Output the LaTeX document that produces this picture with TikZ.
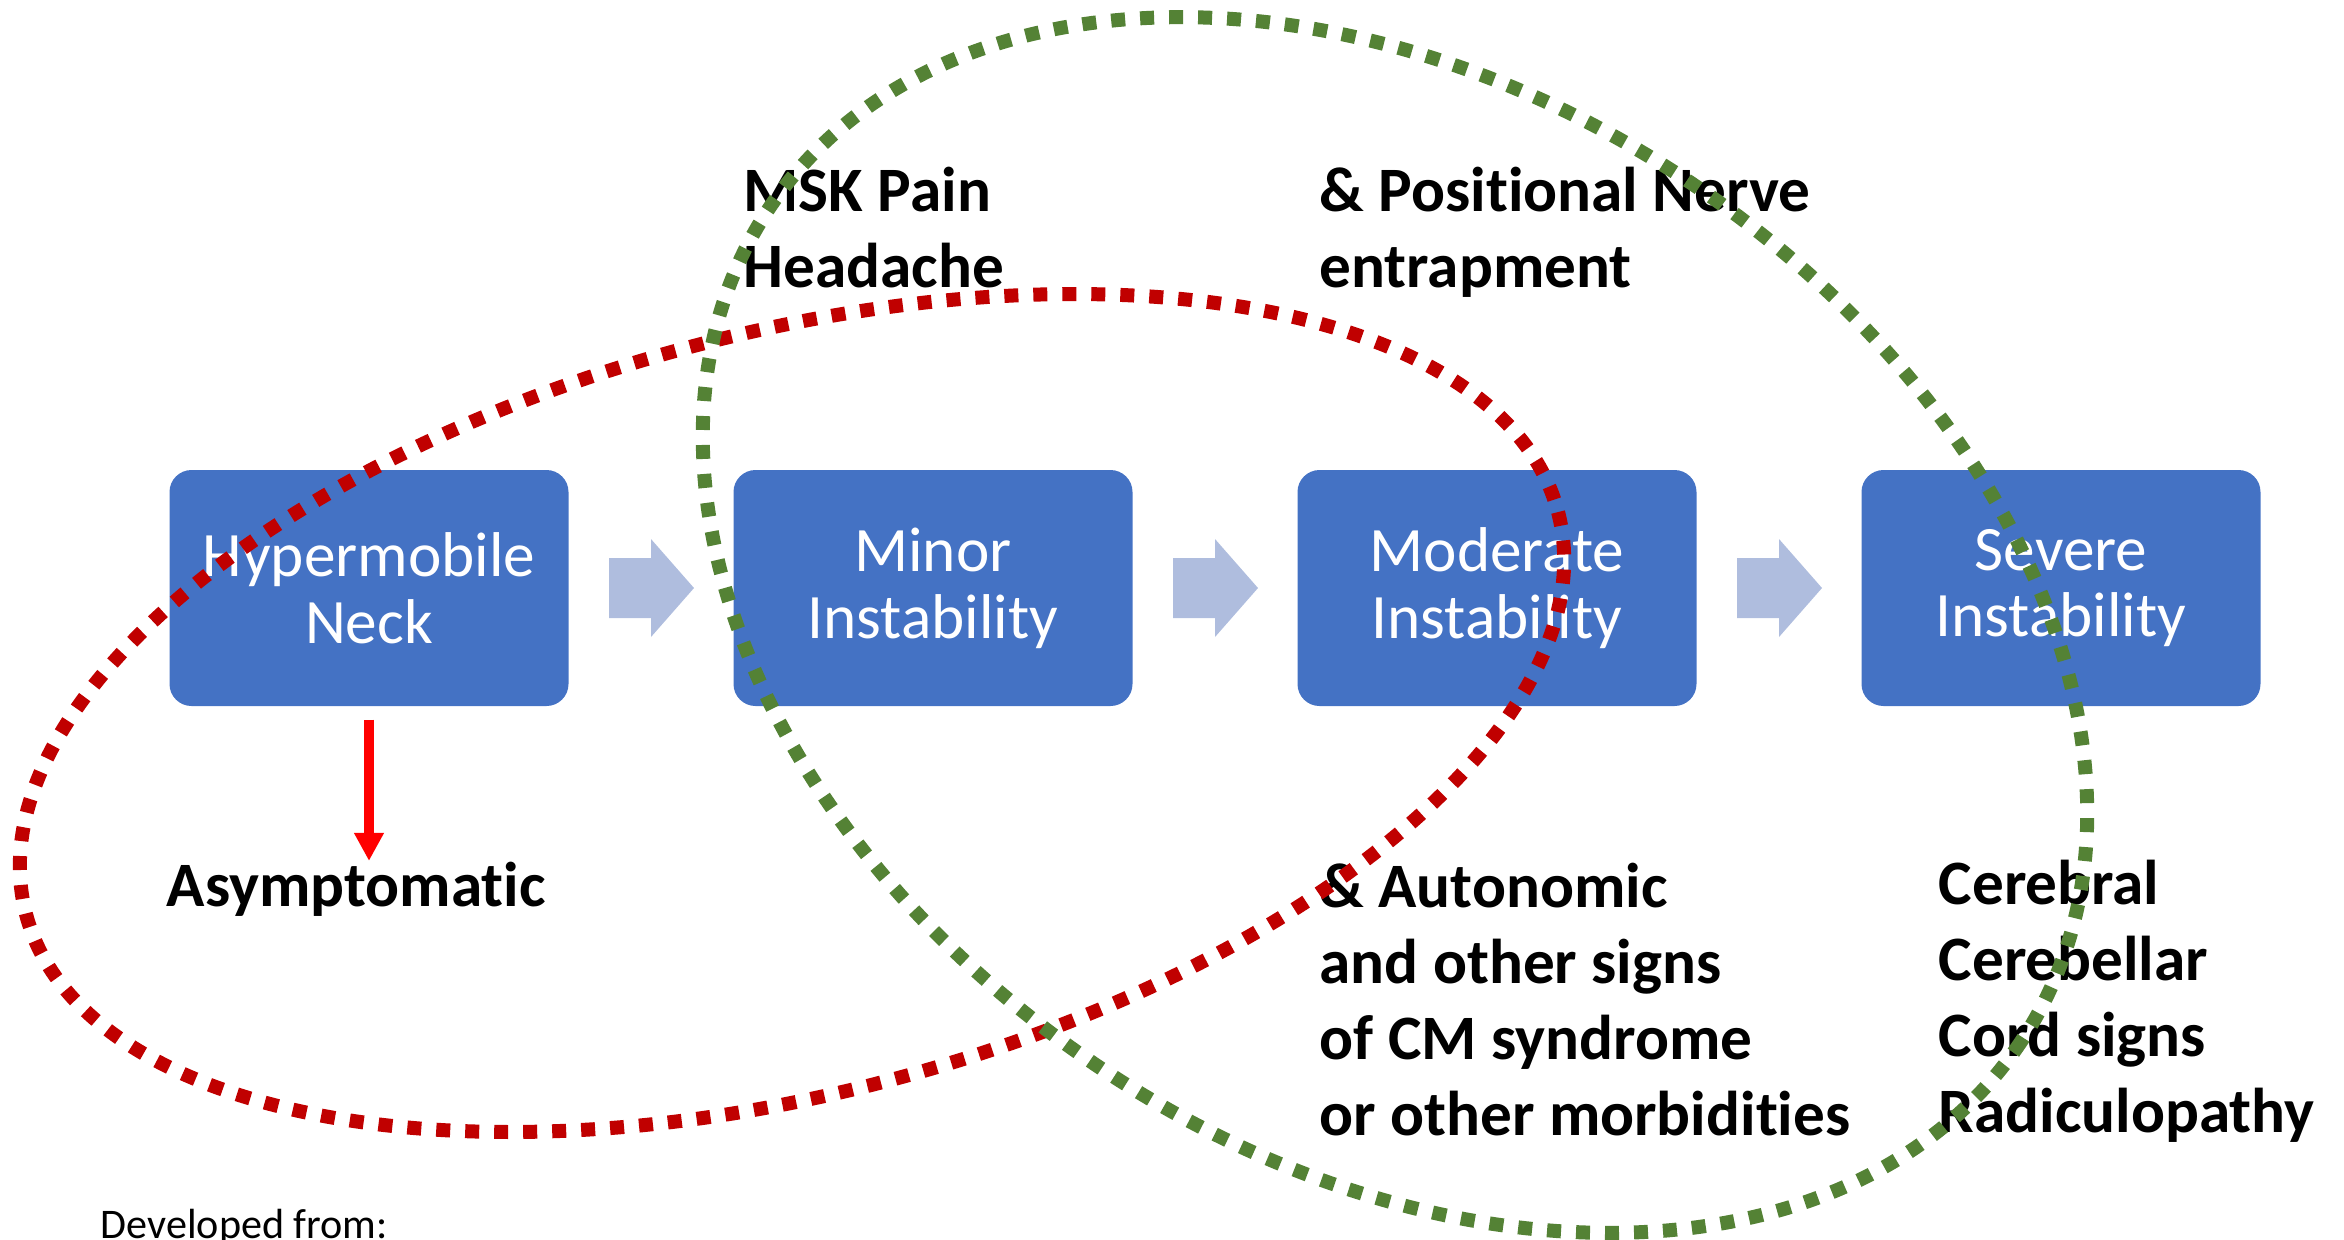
\documentclass[tikz,border=0pt]{standalone}
\usepackage{fontspec}
\setmainfont{Carlito}[Ligatures=NoCommon]
\usetikzlibrary{calc,arrows.meta}
\definecolor{stageblue}{HTML}{4472C4}
\definecolor{stepblue}{RGB}{175,189,222}
\definecolor{redring}{HTML}{C00000}
\definecolor{greenring}{HTML}{548235}
\tikzset{
	stage/.style={fill=stageblue, rounded corners=2.2mm, minimum width=39.9mm, minimum height=23.6mm, text=white, align=center, font=\fontsize{18}{19}\selectfont},
	sign/.style={anchor=base west, align=left, inner sep=0pt, font=\fontsize{18}{21.6}\selectfont\bfseries},
	ring/.style={line width=1.4mm, dash pattern=on 1.4mm off 1.5mm},
}
\begin{document}
\begin{tikzpicture}[x=0.1mm,y=-0.1mm]
		\useasboundingbox (0,0) rectangle (2344,1239);
		
		\node [stage] (b1) at (369,588) {Hypermobile\\Neck};
		\node [stage] (b2) at (933,588) {Minor\\Instability};
		\node [stage] (b3) at (1497,588) {Moderate\\Instability};
		\node [stage] (b4) at (2061,588) {Severe\\Instability};
		
		\foreach \a/\b in {b1/b2,b2/b3,b3/b4}
			\fill [stepblue, shift={($(\a.east)!0.5!(\b.west)$)}] (-42,-30) -- (0,-30) -- (0,-49) -- (43,0) -- (0,49) -- (0,30) -- (-42,30) -- cycle;
		
		% base anchor of a multi-line node sits on its last line
		\node [sign] (msk) at (743,287) {MSK Pain\\Headache};
		\node [sign] (nerve) at (1319,287) {\& Positional Nerve\\entrapment};
		\node [sign] (asym) at (166,906) {Asymptomatic};
		\node [sign] (auto) at (1319,1135) {\& Autonomic\\and other signs\\of CM syndrome\\or other morbidities};
		\node [sign] (cord) at (1938,1132) {Cerebral\\Cerebellar\\Cord signs\\Radiculopathy};
		\node [anchor=base west, inner sep=0pt, font=\fontsize{12}{14}\selectfont] (source) at (100,1238) {Developed from:};
		
		\draw [-{Triangle[length=2.8mm,width=2.8mm]}, red, line width=0.93mm] ([yshift=-1.3mm]b1.south) -- (b1.south |- asym.north);
		
		\begin{scope}[ring]
			\draw [redring, rotate around={14.7:(792,713)}] (792,713) ellipse [x radius=792, y radius=380];
			\draw [greenring, rotate around={-33.6:(1395,625)}] (1395,625) ellipse [x radius=752, y radius=532];
		\end{scope}
	\end{tikzpicture}
\end{document}
